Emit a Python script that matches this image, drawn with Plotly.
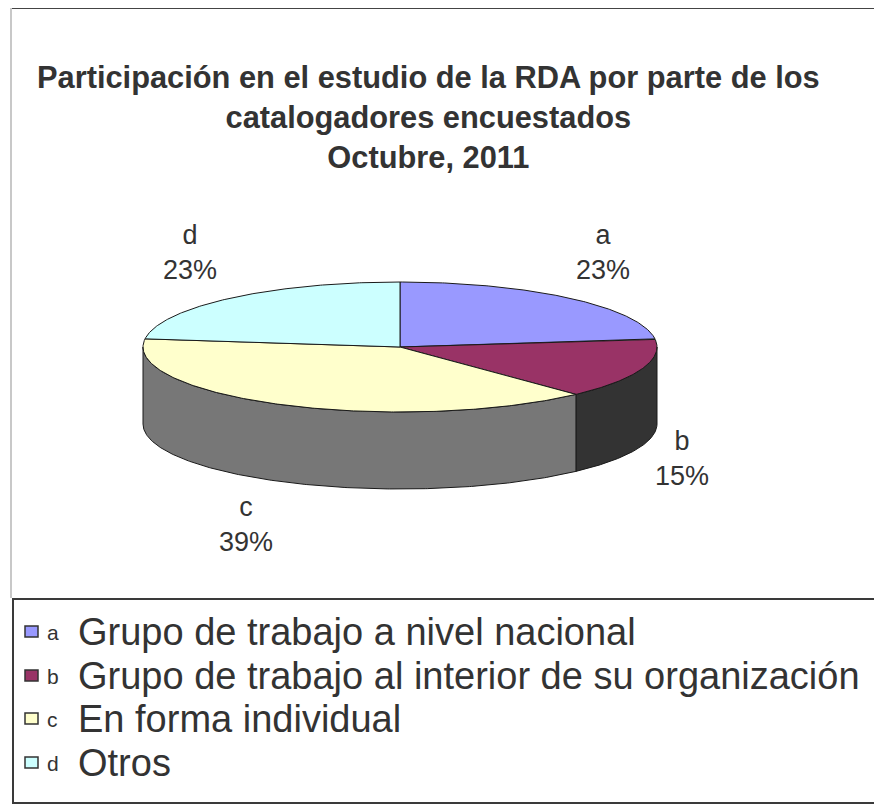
import math
import plotly.graph_objects as go

# ---- data ----
letters = ["a", "b", "c", "d"]
categories = ["Grupo de trabajo a nivel nacional",
              "Grupo de trabajo al interior de su organización",
              "En forma individual",
              "Otros"]
values = [23, 15, 39, 23]
title_lines = ["Participación en el estudio de la RDA por parte de los",
               "catalogadores encuestados",
               "Octubre, 2011"]

# ---- style ----
top_colors = ["#9999FF", "#993366", "#FFFFCC", "#CCFFFF"]
side_colors = ["#5C5C99", "#333333", "#777777", "#7A9999"]
W, H = 882, 808
OFF = 8  # page body margin; axes are set so data units == page pixels
cx, cy, rx, ry, depth = 400, 347, 257, 65, 77
edge = dict(color="#1a1a1a", width=1)
label_pos = [(603, 252), (682, 458), (246, 524), (190, 252)]
font_family = "Liberation Sans, Arial, sans-serif"

fig = go.Figure()
total = sum(values)


def ell(theta_deg, dy=0.0):
    t = math.radians(theta_deg)
    return cx + rx * math.cos(t), cy - ry * math.sin(t) + dy


def arc(a0, a1, n, dy=0.0):
    pts = [ell(a0 + (a1 - a0) * k / n, dy) for k in range(n + 1)]
    return [p[0] for p in pts], [p[1] for p in pts]


cum = 0.0
angles = []
for v in values:
    th0 = 90 - 360 * cum / total
    cum += v
    th1 = 90 - 360 * cum / total
    angles.append((th0, th1))

# side walls (front half only)
for (th0, th1), col in zip(angles, side_colors):
    hi = min(th0, 0)
    lo = max(th1, -180)
    if hi <= lo:
        continue
    n = max(int((hi - lo) * 2), 4)
    xt, yt = arc(hi, lo, n)
    xb, yb = arc(lo, hi, n, depth)
    fig.add_trace(go.Scatter(x=xt + xb + [xt[0]], y=yt + yb + [yt[0]],
                             fill="toself", fillcolor=col, mode="lines",
                             line=edge, hoverinfo="skip", showlegend=False))

# top slices
for (th0, th1), col, lab in zip(angles, top_colors, categories):
    n = max(int((th0 - th1) * 2), 4)
    xa, ya = arc(th0, th1, n)
    fig.add_trace(go.Scatter(x=[cx] + xa + [cx], y=[cy] + ya + [cy],
                             fill="toself", fillcolor=col, mode="lines",
                             line=edge, name=lab, hoverinfo="name",
                             showlegend=False))

annotations = []
# slice labels
for letter, v, (lx, ly) in zip(letters, values, label_pos):
    pct = round(100 * v / total)
    annotations.append(dict(x=lx, y=ly, xref="x", yref="y", showarrow=False,
                            text=f"{letter}<br>{pct}%", align="center",
                            font=dict(family=font_family, size=27, color="#333333")))

# title
annotations.append(dict(x=428, y=117, xref="x", yref="y", showarrow=False,
                        text="<br>".join(f"<b>{t}</b>" for t in title_lines),
                        align="center",
                        font=dict(family=font_family, size=30.8, color="#333333")))

shapes = [
    dict(type="line", x0=11, y0=8, x1=W + OFF, y1=8, xref="x", yref="y",
         line=dict(color="#444444", width=2)),
    dict(type="line", x0=11, y0=8, x1=11, y1=598, xref="x", yref="y",
         line=dict(color="#c8c8c8", width=2)),
    dict(type="rect", x0=13, y0=599, x1=881, y1=803, xref="x", yref="y",
         line=dict(color="#3a3a3a", width=2), fillcolor="white", layer="below"),
    dict(type="line", x0=881, y0=599, x1=881, y1=803, xref="x", yref="y",
         line=dict(color="#d0d0d0", width=2)),
]

row_y = [632, 676, 719, 763]
for letter, lab, col, yy in zip(letters, categories, top_colors, row_y):
    shapes.append(dict(type="rect", x0=25, y0=yy - 6, x1=38, y1=yy + 5,
                       xref="x", yref="y", fillcolor=col,
                       line=dict(color="#333333", width=1.5)))
    annotations.append(dict(x=45, y=yy, xref="x", yref="y", showarrow=False,
                            xanchor="left", yanchor="middle", text=letter,
                            font=dict(family=font_family, size=21, color="#333333")))
    annotations.append(dict(x=76, y=yy, xref="x", yref="y", showarrow=False,
                            xanchor="left", yanchor="middle", text=lab,
                            font=dict(family=font_family, size=38, color="#333333")))

fig.update_layout(
    width=W, height=H, margin=dict(l=0, r=0, t=0, b=0),
    paper_bgcolor="white", plot_bgcolor="white",
    xaxis=dict(range=[OFF, W + OFF], visible=False, fixedrange=True),
    yaxis=dict(range=[H + OFF, OFF], visible=False, fixedrange=True),
    annotations=annotations, shapes=shapes, showlegend=False,
)

fig.write_html("out.html")
